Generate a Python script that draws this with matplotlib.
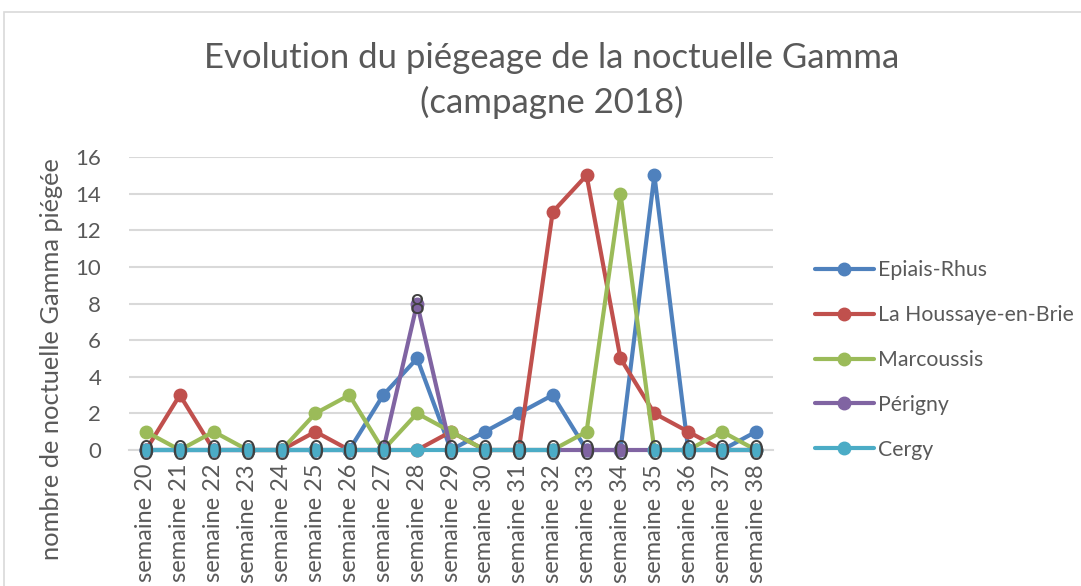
import numpy as np
import matplotlib
matplotlib.use("Agg")
import matplotlib.pyplot as plt
from matplotlib.patches import Rectangle

plt.rcParams['font.family'] = ['Lato', 'DejaVu Sans']

weeks = ["semaine %d" % w for w in range(20, 39)]
epiais = [0, 0, 0, 0, 0, 0, 0, 3, 5, 0, 1, 2, 3, 0, 0, 15, 0, 0, 1]
houssaye = [0, 3, 0, 0, 0, 1, 0, 0, 0, 1, 0, 0, 13, 15, 5, 2, 1, 0, 0]
marcoussis = [1, 0, 1, 0, 0, 2, 3, 0, 2, 1, 0, 0, 0, 1, 14, 0, 0, 1, 0]
perigny = [0, 0, 0, 0, 0, 0, 0, 0, 8, 0, 0, 0, 0, 0, 0, 0, 0, 0, 0]
cergy = [0, 0, 0, 0, 0, 0, 0, 0, 0, 0, 0, 0, 0, np.nan, np.nan, 0, 0, 0, 0]

names = ["Epiais-Rhus", "La Houssaye-en-Brie", "Marcoussis", "Périgny", "Cergy"]
series = [epiais, houssaye, marcoussis, perigny, cergy]
colors = ["#4F81BD", "#C0504D", "#9BBB59", "#8064A2", "#4BACC6"]

W, H = 1081, 586
fig = plt.figure(figsize=(W / 100, H / 100), dpi=100)
fig.patches.append(Rectangle((4 / W, -0.1), 1.2, (H - 12) / H + 0.1, transform=fig.transFigure,
                             fill=False, edgecolor="#D9D9D9", linewidth=1.2))

left, right, top, bottom = 129, 773, 157, 450
ax = fig.add_axes([left / W, (H - bottom) / H, (right - left) / W, (bottom - top) / H])
x = np.arange(len(weeks))
for i, (name, vals, c) in enumerate(zip(names, series, colors)):
    ax.plot(x, vals, color=c, lw=3.0, marker="o", ms=9, label=name, clip_on=False,
            zorder=3 + i, solid_capstyle="round")
for xi, v in zip(x, perigny):
    ax.text(xi, v, "%d" % v, ha="center", va="center_baseline", fontsize=18.5, color="#404040",
            zorder=20, clip_on=False)

ax.set_xlim(-0.5, len(weeks) - 0.5)
ax.set_ylim(0, 16)
ax.set_yticks(range(0, 17, 2))
ax.set_xticks(x)
ax.set_xticklabels(weeks, rotation=90, fontsize=17, color="#595959")
ax.tick_params(axis="x", length=0, pad=10)
ax.tick_params(axis="y", length=0, pad=20, labelsize=16, labelcolor="#595959")
ax.grid(axis="y", color="#D9D9D9", lw=1.5)
ax.set_axisbelow(True)
for s in ["top", "right", "left"]:
    ax.spines[s].set_visible(False)
ax.spines["bottom"].set_color("#D9D9D9")
ax.spines["bottom"].set_linewidth(1.5)

fig.text(552 / W, 1 - 58 / H, "Evolution du piégeage de la noctuelle Gamma", ha="center", va="center",
         fontsize=25, color="#595959")
fig.text(552 / W, 1 - 102 / H, "(campagne 2018)", ha="center", va="center",
         fontsize=25, color="#595959")
fig.text(52 / W, 1 - 359 / H, "nombre de noctuelle Gamma piégée", rotation=90, ha="center",
         va="center", fontsize=18.3, color="#595959")

leg = fig.legend(loc="center left", bbox_to_anchor=(806 / W, 1 - 360 / H), frameon=False,
                 fontsize=15.3, labelcolor="#595959", handlelength=2.8, handletextpad=0.2,
                 labelspacing=1.17, borderaxespad=0)

fig.savefig("out.png", dpi=100)
